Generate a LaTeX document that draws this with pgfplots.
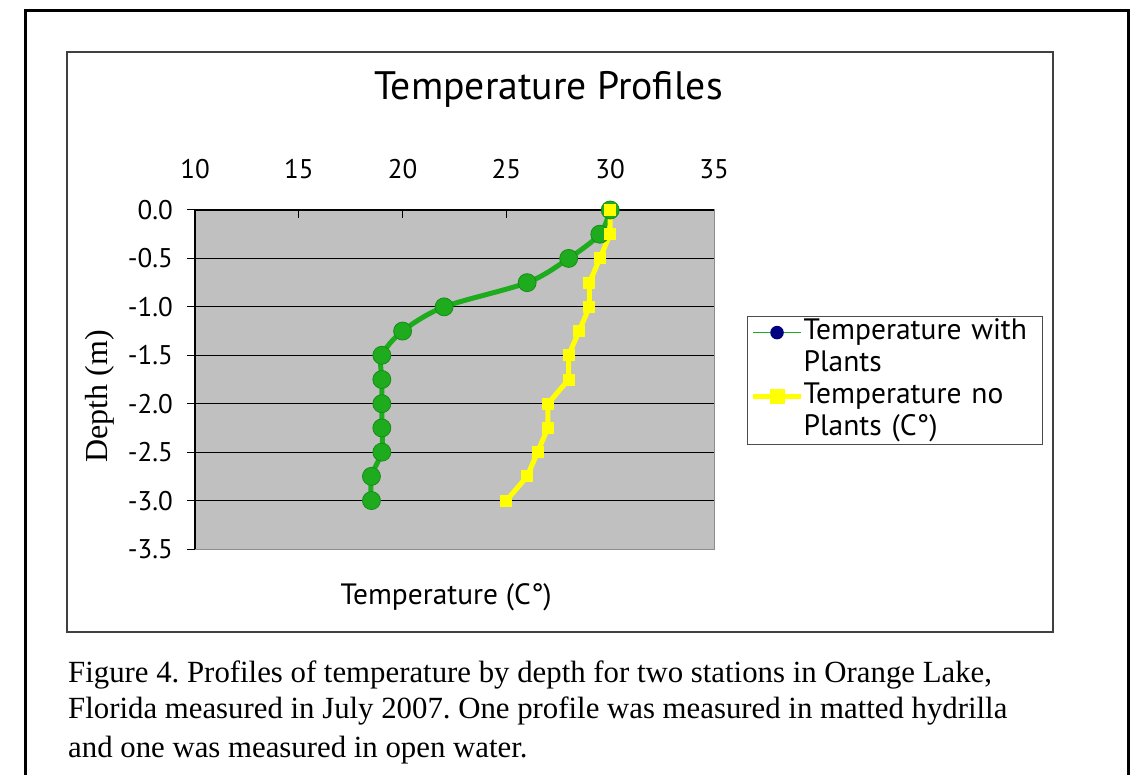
\documentclass[border=0pt]{standalone}
\usepackage{fontspec}
\setmainfont{PT Sans}
\newfontfamily\capfont{Liberation Serif}
\newfontfamily\labfont{Liberation Serif}
\usepackage{pgfplots}
\pgfplotsset{compat=1.18}
\definecolor{xlgreen}{RGB}{30,172,30}
\definecolor{xlgreendk}{RGB}{22,140,22}
\definecolor{xlyellow}{RGB}{255,255,0}
\definecolor{xlnavy}{RGB}{0,0,128}
\definecolor{xlgray}{RGB}{192,192,192}
\frenchspacing
\begin{document}
\begin{tikzpicture}[x=1pt,y=1pt]
\useasboundingbox (0,0) rectangle (1131,774);
% outer frame (open at the bottom)
\draw[line width=3pt,black] (25,-5) -- (25,763) -- (1128,763) -- (1128,-5);
% chart area frame
\draw[line width=1.6pt,black!75] (67,142) rectangle (1053,722);
\begin{axis}[
  at={(195pt,225pt)}, anchor=south west,
  scale only axis, width=519pt, height=339pt,
  xmin=10, xmax=35, ymin=-3.5, ymax=0,
  xtick={10,15,...,35},
  ytick={-3.5,-3,...,0},
  xtick pos=right, xticklabel pos=right,
  ytick pos=left,
  tick align=inside,
  major tick length=8pt,
  ytick style={xshift=-8pt, black, line width=1pt},
  xtick style={black, line width=1pt},
  /pgf/number format/assume math mode=true,
  ticklabel style={font=\fontsize{27}{27}\selectfont},
  xticklabel style={inner sep=0pt, anchor=base, yshift=31pt},
  yticklabel style={inner sep=0pt, anchor=east, xshift=-22pt,
    /pgf/number format/.cd, fixed, fixed zerofill, precision=1},
  ymajorgrids,
  grid style={black, line width=1pt},
  axis background/.style={fill=xlgray},
  axis line style={draw=black!45, line width=1pt},
  title={Temperature Profiles},
  title style={at={(axis description cs:0.681,1.3097)}, anchor=base,
    inner sep=0pt, font=\fontsize{39.7}{40}\selectfont},
  xlabel={Temperature (C°)},
  xlabel style={at={(axis description cs:0.484,-0.165)}, anchor=base,
    inner sep=0pt, font=\fontsize{29.4}{30}\selectfont},
  ylabel={Depth (m)},
  ylabel style={at={(axis description cs:-0.183,0.451)}, anchor=center,
    rotate=0, inner sep=0pt, font=\labfont\fontsize{32}{32}\selectfont},
  legend style={at={(axis description cs:1.0636,0.687)}, anchor=north west,
    draw=black!70, line width=1pt, fill=white,
    font=\fontsize{29.5}{30}\selectfont,
    inner xsep=3pt, inner ysep=2pt,
    row sep=4pt,
    nodes={inner sep=0pt, text height=21pt, text depth=7pt, text width=236pt}},
  legend cell align=left,
  legend image code/.code={
    \draw[mark repeat=2, mark phase=2] plot coordinates {(0pt,0pt) (24pt,0pt) (48pt,0pt)};
  },
  clip=false,
]
\addplot[color=xlgreen, line width=5pt, smooth, mark=*, mark size=9pt,
  mark options={fill=xlgreen, draw=xlgreendk, line width=0.8pt}, forget plot]
  coordinates {
  (30.0,0) (29.5,-0.25) (28.0,-0.5) (26.0,-0.75) (22.0,-1.0) (20.0,-1.25)
  (19.0,-1.5) (19.0,-1.75) (19.0,-2.0) (19.0,-2.25) (19.0,-2.5) (18.5,-2.75) (18.5,-3.0)
  };
\addplot[color=xlyellow, line width=5pt, mark=square*, mark size=5.5pt,
  mark options={fill=xlyellow, draw=xlyellow, line width=0pt}, forget plot]
  coordinates {
  (30.0,0) (30.0,-0.25) (29.5,-0.5) (29.0,-0.75) (29.0,-1.0) (28.5,-1.25)
  (28.0,-1.5) (28.0,-1.75) (27.0,-2.0) (27.0,-2.25) (26.5,-2.5) (26.0,-2.75) (25.0,-3.0)
  };
\draw[black, line width=1.2pt] (rel axis cs:0,0) -- (rel axis cs:0,1) -- (rel axis cs:1,1);
\addlegendimage{color=xlgreen, line width=1.5pt, mark=*, mark size=6pt,
  mark options={fill=xlnavy, draw=xlnavy}}
\addlegendentry{Temperature with}
\addlegendimage{empty legend}
\addlegendentry{Plants}
\addlegendimage{color=xlyellow, line width=5pt, mark=square*, mark size=5pt,
  mark options={fill=xlyellow, draw=xlyellow}}
\addlegendentry{Temperature no}
\addlegendimage{empty legend}
\addlegendentry{Plants (C°)}
\end{axis}
% caption
\node[anchor=base west, inner sep=0pt, font=\capfont\fontsize{30.8}{30}\selectfont] at (68,92) {Figure 4. Profiles of temperature by depth for two stations in Orange Lake,};
\node[anchor=base west, inner sep=0pt, font=\capfont\fontsize{30.8}{30}\selectfont] at (68,56) {Florida measured in July 2007. One profile was measured in matted hydrilla};
\node[anchor=base west, inner sep=0pt, font=\capfont\fontsize{30.8}{30}\selectfont] at (68,17) {and one was measured in open water.};
\end{tikzpicture}
\end{document}
